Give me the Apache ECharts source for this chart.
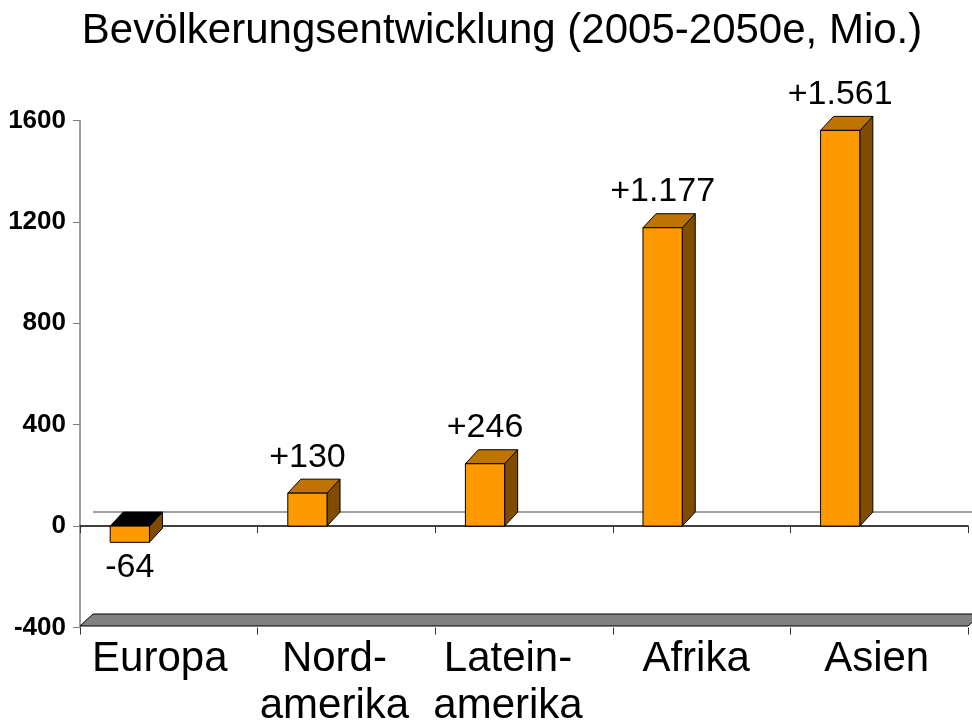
<!DOCTYPE html>
<html>
<head>
<meta charset="utf-8">
<script src="https://cdn.jsdelivr.net/npm/echarts@6/dist/echarts.min.js"></script>
<style>
  html, body { margin: 0; background: #fff; }
  #chart { width: 972px; height: 727px; }
</style>
</head>
<body>
<div id="chart"></div>
<script>
const regions = ['Europa', 'Nord-\namerika', 'Latein-\namerika', 'Afrika', 'Asien']
const change = [-64, 130, 246, 1177, 1561]
const yMin = -400
const yMax = 1600
const yStep = 400

// depth of the fake 3d look
const DX = 13
const DY = -14
const FONT = "'Liberation Sans', Arial, sans-serif"

// labels in the original sit a bit left of the category centre
const labelPad = [18, 24, 32, 11, 5]

function fmt(v) {
  const s = String(Math.abs(v)).replace(/\B(?=(\d{3})+(?!\d))/g, '.')
  return (v > 0 ? '+' : '-') + s
}

const chart = echarts.init(document.getElementById('chart'), null, { renderer: 'canvas' })

function renderBar(params, api) {
  const i = api.value(0)
  const v = api.value(1)
  const base = api.coord([i, 0])
  const end = api.coord([i, v])
  const band = api.size([1, 0])[0]
  const w = band * 0.221
  const x = base[0] - band / 2 + band * 0.17
  const yt = Math.min(base[1], end[1])
  const yb = Math.max(base[1], end[1])
  const line = { stroke: '#000', lineWidth: 1 }
  const label = v > 0
    ? { x: x + w / 2, y: yt + DY - 5, verticalAlign: 'bottom' }
    : { x: x + w / 2, y: yb + 8, verticalAlign: 'top' }
  return {
    type: 'group',
    children: [
      {
        type: 'polygon',
        shape: { points: [[x + w, yt], [x + w + DX, yt + DY], [x + w + DX, yb + DY], [x + w, yb]] },
        style: Object.assign({ fill: '#7f4c00' }, line)
      },
      {
        type: 'polygon',
        shape: { points: [[x, yt], [x + DX, yt + DY], [x + w + DX, yt + DY], [x + w, yt]] },
        style: Object.assign({ fill: v < 0 ? '#000' : '#bf7300' }, line)
      },
      {
        type: 'rect',
        shape: { x: x, y: yt, width: w, height: yb - yt },
        style: Object.assign({ fill: '#ff9900' }, line)
      },
      {
        type: 'text',
        x: label.x,
        y: label.y,
        style: {
          text: fmt(v),
          font: '34px ' + FONT,
          fill: '#000',
          align: 'center',
          verticalAlign: label.verticalAlign
        }
      }
    ]
  }
}

function renderFloor(params, api) {
  const cs = params.coordSys
  const x0 = cs.x
  const x1 = cs.x + cs.width
  const yf = api.coord([0, yMin])[1] - 1.5
  const yz = api.coord([0, 0])[1]
  return {
    type: 'group',
    children: [
      {
        type: 'polygon',
        shape: { points: [[x0, yf], [x1, yf], [x1 + DX, yf - 12], [x0 + DX, yf - 12]] },
        style: { fill: '#808080', stroke: '#000', lineWidth: 1 }
      },
      {
        type: 'line',
        shape: { x1: x0 + DX, y1: yz + DY, x2: x1 + DX, y2: yz + DY },
        style: { stroke: '#808080', lineWidth: 1.5 }
      }
    ]
  }
}

const rich = {}
labelPad.forEach((p, i) => {
  rich['c' + i] = {
    fontFamily: FONT,
    fontSize: 42,
    lineHeight: 47,
    color: '#000',
    padding: [0, p, 0, 0]
  }
})

const option = {
  animation: false,
  backgroundColor: '#fff',
  title: {
    text: 'Bevölkerungsentwicklung (2005-2050e, Mio.)',
    left: 497,
    top: 5,
    textAlign: 'center',
    textStyle: {
      fontFamily: FONT,
      fontSize: 42,
      fontWeight: 'normal',
      color: '#000'
    }
  },
  grid: {
    left: 80,
    right: 4,
    top: 120.5,
    bottom: 99.5,
    containLabel: false,
    outerBoundsMode: 'none'
  },
  xAxis: [
    {
      type: 'category',
      data: regions,
      position: 'bottom',
      axisLine: { onZero: true, lineStyle: { color: '#000', width: 1.5 } },
      axisTick: { show: true, length: 7, lineStyle: { color: '#333' } },
      axisLabel: { show: false },
      splitLine: { show: false }
    },
    {
      type: 'category',
      data: regions,
      position: 'bottom',
      axisLine: { show: false, onZero: false },
      axisTick: { show: true, length: 7, lineStyle: { color: '#333' } },
      axisLabel: {
        margin: 8,
        formatter: (v, i) => v.split('\n').map(s => '{c' + i + '|' + s + '}').join('\n'),
        rich: rich
      },
      splitLine: { show: false }
    }
  ],
  yAxis: {
    type: 'value',
    min: yMin,
    max: yMax,
    interval: yStep,
    axisLine: { show: true, onZero: false, lineStyle: { color: '#808080', width: 1.5 } },
    axisTick: { show: true, length: 7, lineStyle: { color: '#808080' } },
    axisLabel: {
      margin: 14,
      formatter: v => String(v),
      fontFamily: FONT,
      fontWeight: 'bold',
      fontSize: 26,
      color: '#000'
    },
    splitLine: { show: false }
  },
  series: [
    {
      type: 'custom',
      name: 'floor',
      z: 1,
      renderItem: renderFloor,
      data: [[0, 0]],
      silent: true
    },
    {
      type: 'custom',
      name: 'Veränderung',
      z: 3,
      renderItem: renderBar,
      encode: { x: 0, y: 1 },
      data: change.map((v, i) => [i, v])
    }
  ]
}

chart.setOption(option)
</script>
</body>
</html>
